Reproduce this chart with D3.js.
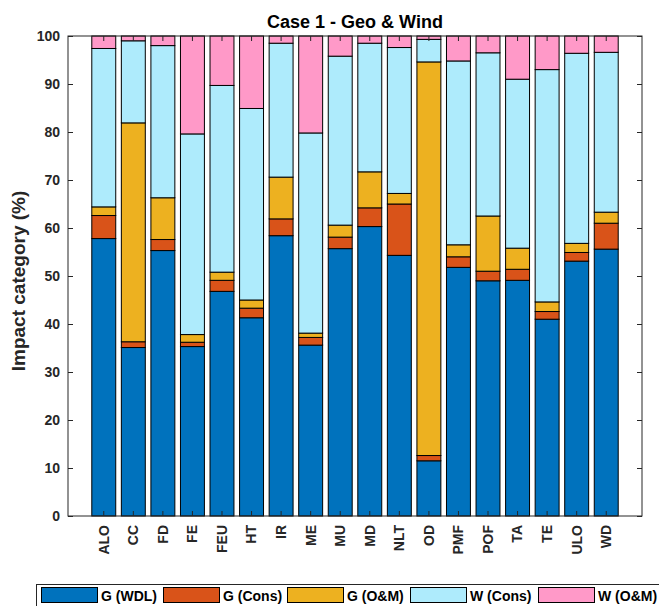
<!DOCTYPE html>
<html>
<head>
<meta charset="utf-8">
<script src="https://cdn.jsdelivr.net/npm/d3@7"></script>
<style>
  html, body { margin: 0; padding: 0; background: #fff; }
  svg { display: block; font-family: "Liberation Sans", Arial, sans-serif; }
</style>
</head>
<body>
<svg id="chart" width="659" height="606"></svg>
<script>
// Impact categories on the x axis
const categories = ["ALO","CC","FD","FE","FEU","HT","IR","ME","MU","MD","NLT","OD","PMF","POF","TA","TE","ULO","WD"];

// Share of each impact category (%) by contributor
const gWDL  = [57.8, 35.1, 55.3, 35.3, 46.8, 41.3, 58.4, 35.6, 55.7, 60.3, 54.3, 11.5, 51.8, 49.0, 49.1, 41.0, 53.1, 55.6];
const gCons = [ 4.8,  1.2,  2.3,  0.9,  2.3,  2.0,  3.5,  1.6,  2.4,  3.9, 10.7,  1.1,  2.2,  2.0,  2.3,  1.6,  1.8,  5.4];
const gOM   = [ 1.8, 45.6,  8.7,  1.6,  1.7,  1.7,  8.7,  0.9,  2.5,  7.5,  2.2, 82.0,  2.5, 11.5,  4.4,  2.0,  1.9,  2.3];
const wCons = [33.0, 17.1, 31.7, 41.8, 38.9, 39.9, 27.9, 41.7, 35.2, 26.8, 30.4,  4.7, 38.3, 34.0, 35.2, 48.4, 39.6, 33.3];
const wOM   = [ 2.6,  1.0,  2.0, 20.4, 10.3, 15.1,  1.5, 20.2,  4.2,  1.5,  2.4,  0.7,  5.2,  3.5,  9.0,  7.0,  3.6,  3.4];

const seriesNames = ["G (WDL)", "G (Cons)", "G (O&M)", "W (Cons)", "W (O&M)"];
const seriesColors = ["#0072BD", "#D95319", "#EDB120", "#AEEBFC", "#FF99C8"];
const yTicks = [0, 10, 20, 30, 40, 50, 60, 70, 80, 90, 100];

const title = "Case 1 - Geo & Wind";
const yLabel = "Impact category (%)";

const svg = d3.select("#chart");
const plot = { left: 68, right: 642, top: 36, bottom: 516 };

const rows = categories.map((c, i) => ({
  cat: c,
  "G (WDL)": gWDL[i], "G (Cons)": gCons[i], "G (O&M)": gOM[i],
  "W (Cons)": wCons[i], "W (O&M)": wOM[i]
}));
const stacked = d3.stack().keys(seriesNames)(rows);

const x = d3.scaleBand()
  .domain(categories)
  .range([plot.left, plot.right])
  .paddingInner(0.19)
  .paddingOuter(0.805);

const y = d3.scaleLinear().domain([0, 100]).range([plot.bottom, plot.top]);

// stacked bars
svg.append("g").selectAll("g")
  .data(stacked)
  .join("g")
  .attr("fill", (d, i) => seriesColors[i])
  .selectAll("rect")
  .data(d => d)
  .join("rect")
  .attr("x", d => x(d.data.cat))
  .attr("width", x.bandwidth())
  .attr("y", d => y(d[1]))
  .attr("height", d => y(d[0]) - y(d[1]))
  .attr("stroke", "#000")
  .attr("stroke-width", 1);

const axisColor = "#262626";
const tickLen = 5;

// y axes: labels left, inward ticks on both sides
const yLeft = svg.append("g")
  .attr("transform", `translate(${plot.left},0)`)
  .call(d3.axisLeft(y).tickValues(yTicks).tickSizeInner(-tickLen).tickSizeOuter(0).tickPadding(8));
yLeft.select(".domain").remove();
yLeft.selectAll("line").attr("stroke", axisColor);
yLeft.selectAll("text")
  .attr("fill", axisColor)
  .style("font-size", "14px")
  .style("font-weight", "bold");

const yRight = svg.append("g")
  .attr("transform", `translate(${plot.right},0)`)
  .call(d3.axisRight(y).tickValues(yTicks).tickSizeInner(-tickLen).tickSizeOuter(0).tickFormat(""));
yRight.select(".domain").remove();
yRight.selectAll("line").attr("stroke", axisColor);

// x axes: labels below, inward ticks top and bottom
const xBottom = svg.append("g")
  .attr("transform", `translate(0,${plot.bottom})`)
  .call(d3.axisBottom(x).tickSizeInner(-tickLen).tickSizeOuter(0).tickPadding(0));
xBottom.select(".domain").remove();
xBottom.selectAll("line").attr("stroke", axisColor);
xBottom.selectAll("text")
  .attr("fill", axisColor)
  .style("font-size", "14px")
  .style("font-weight", "bold")
  .attr("transform", "rotate(-90)")
  .attr("text-anchor", "end")
  .attr("x", -9)
  .attr("y", 0)
  .attr("dy", "0.35em");

const xTop = svg.append("g")
  .attr("transform", `translate(0,${plot.top})`)
  .call(d3.axisTop(x).tickSizeInner(-tickLen).tickSizeOuter(0).tickFormat(""));
xTop.select(".domain").remove();
xTop.selectAll("line").attr("stroke", axisColor);

// axes box
svg.append("rect")
  .attr("x", plot.left).attr("y", plot.top)
  .attr("width", plot.right - plot.left).attr("height", plot.bottom - plot.top)
  .attr("fill", "none").attr("stroke", axisColor).attr("stroke-width", 1);

// title
svg.append("text")
  .attr("x", (plot.left + plot.right) / 2).attr("y", 28)
  .attr("text-anchor", "middle")
  .attr("fill", "#000")
  .style("font-size", "18px").style("font-weight", "bold")
  .text(title);

// y label
svg.append("text")
  .attr("transform", `translate(25,${(plot.top + plot.bottom) / 2 + 5}) rotate(-90)`)
  .attr("text-anchor", "middle")
  .attr("fill", axisColor)
  .style("font-size", "19px").style("font-weight", "bold")
  .text(yLabel);

// legend
const legend = svg.append("g");
legend.append("rect")
  .attr("x", 36.5).attr("y", 584.5).attr("width", 640).attr("height", 30)
  .attr("fill", "#fff").attr("stroke", axisColor).attr("stroke-width", 1);

const legendX = [41, 163, 287, 410, 538];
const item = legend.selectAll("g.item")
  .data(seriesNames)
  .join("g")
  .attr("class", "item")
  .attr("transform", (d, i) => `translate(${legendX[i]},0)`);
item.append("rect")
  .attr("x", 0.5).attr("y", 587.5).attr("width", 56).attr("height", 15)
  .attr("fill", (d, i) => seriesColors[i])
  .attr("stroke", "#000").attr("stroke-width", 1);
item.append("text")
  .attr("x", 60).attr("y", 601)
  .attr("fill", "#000")
  .style("font-size", "14px").style("font-weight", "bold")
  .text(d => d);
</script>
</body>
</html>
